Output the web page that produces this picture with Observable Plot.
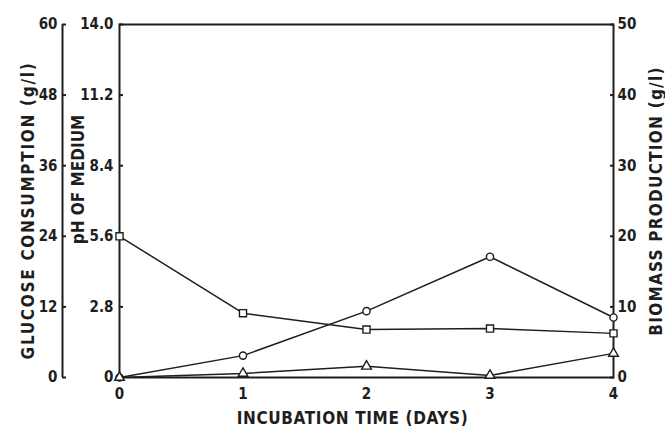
<!DOCTYPE html>
<html>
<head>
<meta charset="utf-8">
<script src="https://cdn.jsdelivr.net/npm/d3@7"></script>
<script src="https://cdn.jsdelivr.net/npm/@observablehq/plot@0.6"></script>
<style>
  html, body { margin: 0; padding: 0; background: #fff; }
  #chart svg { display: block; }
</style>
</head>
<body>
<div id="chart"></div>
<script>
// ---- data ----
const days = [0, 1, 2, 3, 4];
const phValues = [5.6, 2.55, 1.9, 1.94, 1.75];          // squares, pH of medium
const biomassValues = [0, 3.1, 9.4, 17.1, 8.5];         // circles, biomass (g/l)
const glucoseValues = [0, 0.7, 1.9, 0.35, 4.1];         // triangles, glucose (g/l)

const phTicks = [0, 2.8, 5.6, 8.4, 11.2, 14.0];
const glucoseTicks = [0, 12, 24, 36, 48, 60];
const biomassTicks = [0, 10, 20, 30, 40, 50];
const dayTicks = [0, 1, 2, 3, 4];

const titles = {
  glucose: "GLUCOSE CONSUMPTION (g/l)",
  ph: "pH OF MEDIUM",
  biomass: "BIOMASS PRODUCTION (g/l)",
  x: "INCUBATION TIME (DAYS)"
};

// ---- conversion onto the shared (pH) y scale ----
const PH_MAX = 14, GLU_MAX = 60, BIO_MAX = 50;
const fromGlucose = g => g * PH_MAX / GLU_MAX;
const fromBiomass = b => b * PH_MAX / BIO_MAX;

const rows = [];
days.forEach((d, i) => {
  rows.push({series: "pH", day: d, y: phValues[i]});
  rows.push({series: "biomass", day: d, y: fromBiomass(biomassValues[i])});
  rows.push({series: "glucose", day: d, y: fromGlucose(glucoseValues[i])});
});
const symbols = {pH: "square", biomass: "circle", glucose: "triangle"};
const radii = {pH: 4, biomass: 3.6, glucose: 3.6};

const INK = "#1e1e1e";
const FONT = "'DejaVu Sans Condensed', 'DejaVu Sans', sans-serif";

const chart = Plot.plot({
  width: 665,
  height: 434,
  marginLeft: 119,
  marginRight: 52,
  marginTop: 24,
  marginBottom: 57,
  style: {fontFamily: FONT, fontSize: "15px", fontWeight: "bold", color: INK, background: "#fff"},
  x: {domain: [0, 4]},
  y: {domain: [0, PH_MAX]},
  marks: [
    Plot.frame({stroke: INK, strokeWidth: 2}),
    // outer glucose axis line
    Plot.ruleX([0], {dx: -57, stroke: INK, strokeWidth: 2}),
    // pH axis (inner left)
    Plot.axisY({
      anchor: "left", ticks: phTicks,
      tickFormat: d => d === 0 ? "0" : d.toFixed(1),
      tickSize: -4, tickPadding: 10, strokeWidth: 2, label: null
    }),
    // glucose axis (outer left)
    Plot.axisY({
      anchor: "left", ticks: glucoseTicks.map(fromGlucose),
      tickFormat: d => String(Math.round(d * GLU_MAX / PH_MAX)),
      tickSize: -4, tickPadding: 9, dx: -57, strokeWidth: 2, label: null
    }),
    // biomass axis (right)
    Plot.axisY({
      anchor: "right", ticks: biomassTicks.map(fromBiomass),
      tickFormat: d => String(Math.round(d * BIO_MAX / PH_MAX)),
      tickSize: -4, tickPadding: 8, strokeWidth: 2, label: null
    }),
    // x axis
    Plot.axisX({ticks: dayTicks, tickFormat: d => String(d), tickSize: 0, tickPadding: 11, label: null}),
    // series
    Plot.line(rows, {x: "day", y: "y", z: "series", stroke: INK, strokeWidth: 1.5}),
    ...Object.keys(symbols).map(s =>
      Plot.dot(rows.filter(r => r.series === s), {
        x: "day", y: "y", symbol: symbols[s], r: radii[s],
        fill: "#fff", stroke: INK, strokeWidth: 1.4
      })
    ),
    // axis titles
    Plot.text([titles.glucose], {frameAnchor: "left", textAnchor: "middle", dx: -90.5, dy: 9.5, rotate: -90, fill: INK, fontSize: 17, fontWeight: "bold"}),
    Plot.text([titles.ph], {frameAnchor: "left", textAnchor: "middle", dx: -40.5, dy: -21.5, rotate: -90, fill: INK, fontSize: 17, fontWeight: "bold"}),
    Plot.text([titles.biomass], {frameAnchor: "right", textAnchor: "middle", dx: 43, dy: 0, rotate: -90, fill: INK, fontSize: 17, fontWeight: "bold"}),
    Plot.text([titles.x], {frameAnchor: "bottom", textAnchor: "middle", dx: -14, dy: 46, fill: INK, fontSize: 17, fontWeight: "bold"})
  ]
});

document.getElementById("chart").appendChild(chart);

// widen the titles' letter spacing to the spread lettering of the original
const titleLength = new Map([[titles.glucose, 296], [titles.ph, 128], [titles.biomass, 268], [titles.x, 231]]);
d3.select(chart).selectAll("text").each(function () {
  const t = this.textContent;
  if (!titleLength.has(t)) return;
  const natural = this.getComputedTextLength();
  const ls = Math.max(0, (titleLength.get(t) - natural) / (t.length - 1));
  d3.select(this).attr("letter-spacing", ls.toFixed(2) + "px");
});
</script>
</body>
</html>
